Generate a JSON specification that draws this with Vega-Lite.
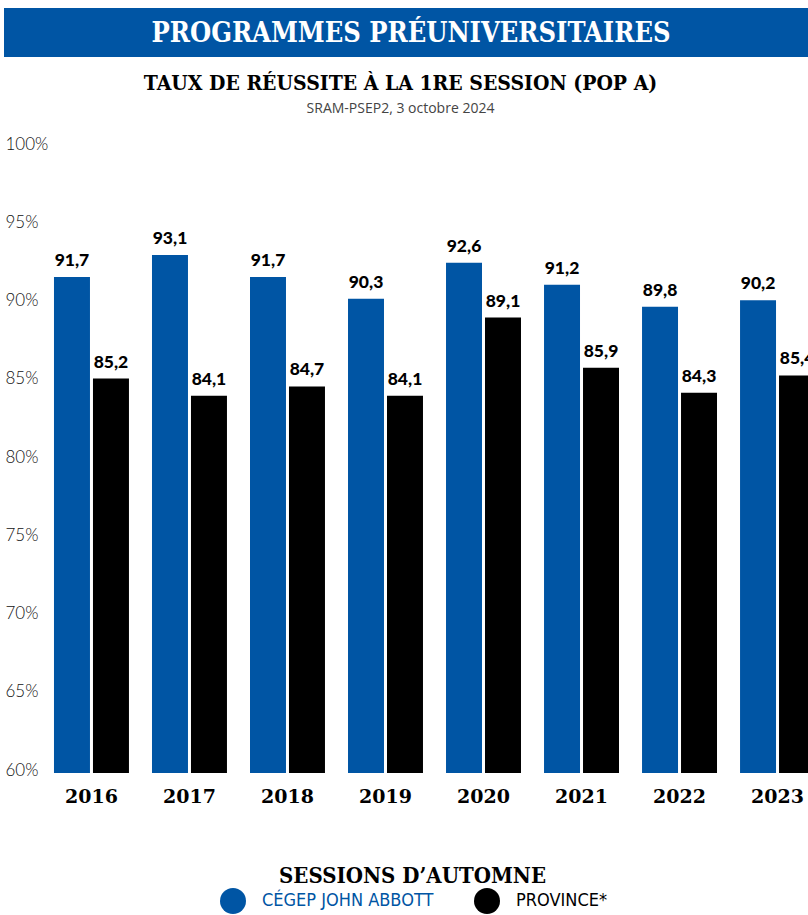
{
  "$schema": "https://vega.github.io/schema/vega-lite/v6.json",
  "padding": {"left": 4, "top": 8, "right": 0, "bottom": 0},
  "background": "white",
  "config": {
    "view": {"stroke": null},
    "locale": {"number": {"decimal": ",", "thousands": " ", "grouping": [3], "currency": ["", " $"]}}
  },
  "columns": 1,
  "spacing": 16,
  "concat": [
    {
      "width": 814,
      "height": 49,
      "view": {"fill": "#0055a4", "stroke": null},
      "data": {"values": [{"t": "PROGRAMMES PRÉUNIVERSITAIRES"}]},
      "mark": {"type": "text", "color": "white", "font": "DejaVu Serif Condensed, DejaVu Serif", "fontWeight": "bold", "fontSize": 27, "baseline": "middle", "dy": 1},
      "encoding": {"text": {"field": "t"}}
    },
    {
      "width": 861,
      "height": 626,
      "title": {
        "text": "TAUX DE RÉUSSITE À LA 1RE SESSION (POP A)",
        "subtitle": "SRAM-PSEP2, 3 octobre 2024",
        "anchor": "middle",
        "frame": "group",
        "dx": -34,
        "font": "DejaVu Serif Condensed, DejaVu Serif",
        "fontWeight": "bold",
        "fontSize": 21,
        "color": "#000",
        "subtitleFont": "Open Sans",
        "subtitleFontSize": 14,
        "subtitleColor": "#444",
        "subtitlePadding": 8,
        "offset": 19
      },
      "data": {"values": [
        {"annee": "2016", "serie": "CÉGEP JOHN ABBOTT", "taux": 91.7},
        {"annee": "2016", "serie": "PROVINCE*", "taux": 85.2},
        {"annee": "2017", "serie": "CÉGEP JOHN ABBOTT", "taux": 93.1},
        {"annee": "2017", "serie": "PROVINCE*", "taux": 84.1},
        {"annee": "2018", "serie": "CÉGEP JOHN ABBOTT", "taux": 91.7},
        {"annee": "2018", "serie": "PROVINCE*", "taux": 84.7},
        {"annee": "2019", "serie": "CÉGEP JOHN ABBOTT", "taux": 90.3},
        {"annee": "2019", "serie": "PROVINCE*", "taux": 84.1},
        {"annee": "2020", "serie": "CÉGEP JOHN ABBOTT", "taux": 92.6},
        {"annee": "2020", "serie": "PROVINCE*", "taux": 89.1},
        {"annee": "2021", "serie": "CÉGEP JOHN ABBOTT", "taux": 91.2},
        {"annee": "2021", "serie": "PROVINCE*", "taux": 85.9},
        {"annee": "2022", "serie": "CÉGEP JOHN ABBOTT", "taux": 89.8},
        {"annee": "2022", "serie": "PROVINCE*", "taux": 84.3},
        {"annee": "2023", "serie": "CÉGEP JOHN ABBOTT", "taux": 90.2},
        {"annee": "2023", "serie": "PROVINCE*", "taux": 85.4}
      ]},
      "encoding": {
        "x": {
          "field": "annee", "type": "nominal",
          "scale": {"paddingInner": 0.235, "paddingOuter": 0.51},
          "axis": {
            "title": "SESSIONS D’AUTOMNE",
            "titleFont": "DejaVu Serif Condensed, DejaVu Serif",
            "titleFontWeight": "bold",
            "titleFontSize": 22,
            "titleColor": "#000",
            "titleX": 408,
            "titleY": 109,
            "titleBaseline": "alphabetic",
            "labelFont": "DejaVu Serif",
            "labelFontWeight": "bold",
            "labelFontSize": 19,
            "labelColor": "#000",
            "labelAngle": 0,
            "labelPadding": 14,
            "domain": false,
            "ticks": false,
            "tickSize": 0
          }
        },
        "xOffset": {"field": "serie", "type": "nominal", "scale": {"paddingInner": 0.077, "paddingOuter": 0}, "sort": ["CÉGEP JOHN ABBOTT", "PROVINCE*"]},
        "y": {
          "field": "taux", "type": "quantitative",
          "scale": {"domain": [60, 100], "nice": false, "zero": false},
          "axis": {
            "title": null,
            "values": [60, 65, 70, 75, 80, 85, 90, 95, 100],
            "labelExpr": "datum.value + '%'",
            "labelAlign": "left",
            "labelPadding": -1,
            "labelOffset": -3,
            "labelFont": "Lato",
            "labelFontWeight": 300,
            "labelFontSize": 17,
            "labelColor": "#111",
            "grid": false,
            "domain": false,
            "ticks": false,
            "tickSize": 0
          }
        }
      },
      "layer": [
        {
          "mark": {"type": "bar", "clip": true},
          "encoding": {
            "color": {
              "field": "serie", "type": "nominal",
              "sort": ["CÉGEP JOHN ABBOTT", "PROVINCE*"],
              "scale": {"domain": ["CÉGEP JOHN ABBOTT", "PROVINCE*"], "range": ["#0055a4", "#000000"]},
              "legend": {
                "title": null,
                "orient": "none",
                "direction": "horizontal",
                "legendX": 216,
                "legendY": 880,
                "symbolType": "circle",
                "symbolSize": 676,
                "symbolStrokeWidth": 0,
                "symbolOpacity": 1,
                "labelFont": "DejaVu Sans Condensed",
                "labelFontSize": 18,
                "labelOffset": 16,
                "columnPadding": 40,
                "labelLimit": 400,
                "encode": {"labels": {"update": {"fill": {"signal": "datum.label === 'CÉGEP JOHN ABBOTT' ? '#0055a4' : '#000000'"}}}}
              }
            }
          }
        },
        {
          "mark": {"type": "text", "baseline": "alphabetic", "dy": -11, "font": "Lato", "fontWeight": 900, "fontSize": 17.5, "color": "#000"},
          "encoding": {
            "text": {"field": "taux", "type": "quantitative", "format": ".1f"}
          }
        }
      ]
    }
  ]
}
